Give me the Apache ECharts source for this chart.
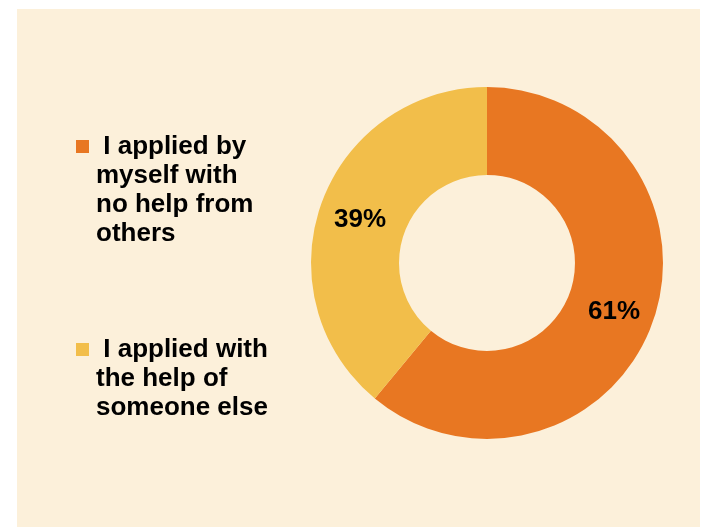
<!DOCTYPE html>
<html>
<head>
<meta charset="utf-8">
<script src="https://cdn.jsdelivr.net/npm/echarts@6/dist/echarts.min.js"></script>
<style>
  html, body { margin: 0; padding: 0; background: #ffffff; }
  #chart { width: 710px; height: 527px; }
</style>
</head>
<body>
<div id="chart"></div>
<script>
// Survey answers: how the application was made
const categories = [
  'I applied by myself with no help from others',
  'I applied with the help of someone else'
];
const shares = [61, 39];
const legendLines = [
  ['I applied by', 'myself with', 'no help from', 'others'],
  ['I applied with', 'the help of', 'someone else']
];
const colors = ['#E87722', '#F2BE4A'];

const FONT = '"Liberation Sans", Arial, Helvetica, sans-serif';
const LINE_H = 29;

// Legend text: bullet square hangs left, following lines indent to the text column
function legendFormatter(idx) {
  return function () {
    const lines = legendLines[idx];
    return lines.map(function (t, i) {
      return i === 0 ? '{sq' + idx + '|}{gap|} ' + t : '{ind|}' + t;
    }).join('\n');
  };
}

const richBase = {
  gap: { width: 7, height: 13, lineHeight: LINE_H },
  ind: { width: 20, height: 13, lineHeight: LINE_H },
  sq0: { width: 13, height: 13, backgroundColor: colors[0], lineHeight: LINE_H },
  sq1: { width: 13, height: 13, backgroundColor: colors[1], lineHeight: LINE_H }
};

function makeLegend(idx, top) {
  return {
    data: [categories[idx]],
    orient: 'vertical',
    left: 71,
    top: top,
    padding: 0,
    itemWidth: 0,
    itemHeight: 0,
    selectedMode: false,
    formatter: legendFormatter(idx),
    textStyle: {
      fontFamily: FONT,
      fontSize: 26,
      fontWeight: 'bold',
      color: '#000000',
      lineHeight: LINE_H,
      rich: richBase
    }
  };
}

const chart = echarts.init(document.getElementById('chart'), null, { renderer: 'canvas' });
chart.setOption({
  backgroundColor: '#ffffff',
  animation: false,
  graphic: [{
    type: 'rect',
    z: -10,
    silent: true,
    shape: { x: 17, y: 9, width: 683, height: 530 },
    style: { fill: '#FCF0DA' }
  }],
  legend: [makeLegend(0, 132), makeLegend(1, 335)],
  series: [{
    type: 'pie',
    center: [487, 263],
    radius: [88, 176],
    startAngle: 90,
    clockwise: true,
    avoidLabelOverlap: false,
    silent: true,
    itemStyle: { borderWidth: 0 },
    label: {
      show: true,
      position: 'inside',
      formatter: '{c}%',
      offset: [0, 3],
      fontFamily: FONT,
      fontSize: 26,
      fontWeight: 'bold',
      color: '#000000'
    },
    labelLine: { show: false },
    data: categories.map(function (name, i) {
      return { name: name, value: shares[i], itemStyle: { color: colors[i] } };
    })
  }]
});
</script>
</body>
</html>
